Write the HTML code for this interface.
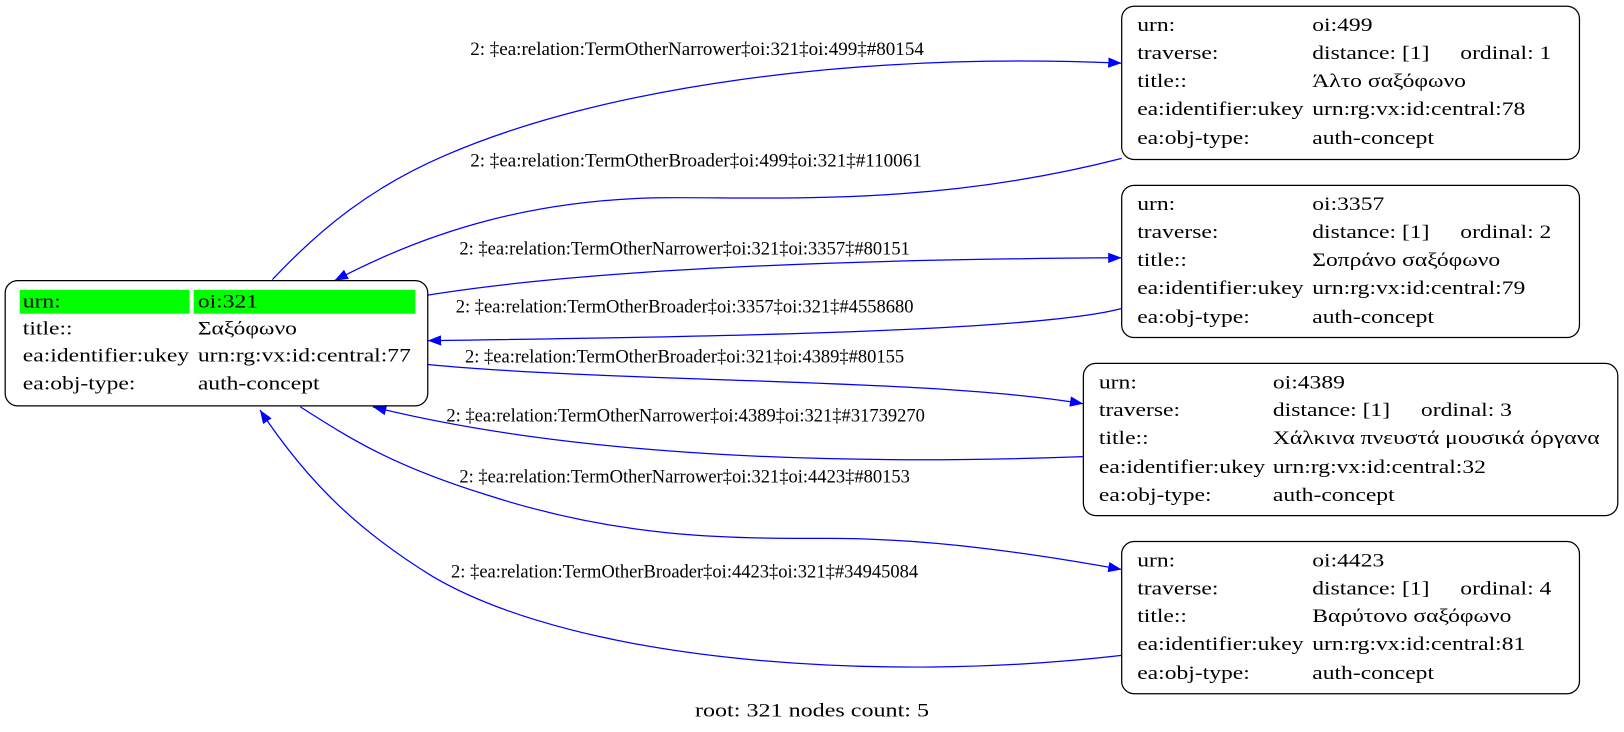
<!DOCTYPE html>
<html><head><meta charset="utf-8"><style>
html,body{margin:0;padding:0;background:#fff;}
svg{display:block;}
text{font-family:"Liberation Serif",serif;font-size:18px;fill:#000;}
</style></head><body>
<svg width="1624" height="732" viewBox="0 0 1568 707" preserveAspectRatio="none" xmlns="http://www.w3.org/2000/svg">
<defs>
<marker id="ah" markerUnits="userSpaceOnUse" markerWidth="14" markerHeight="10" refX="13" refY="5" orient="auto">
<path d="M0,0 L13,5 L0,10 Z" fill="#0000ff"/>
</marker>
</defs>
<g fill="none" stroke="#0000ff" stroke-width="1.2" marker-end="url(#ah)">
<path d="M263,270 C310,220 360,180 430,150 C580,85 820,50 1083,61"/>
<path d="M1083,153 C900,200 750,190 637,191 C520,193 420,220 323,271"/>
<path d="M413,285 C600,255 900,250 1083,249"/>
<path d="M1083,298 C1000,320 700,325 413,329"/>
<path d="M413,352 C600,370 900,365 1046,390"/>
<path d="M1046,441 C800,450 550,440 360,393"/>
<path d="M290,393 C340,425 380,450 470,478 C600,520 700,520 800,520 C900,520 1000,535 1083,550"/>
<path d="M1083,633 C850,660 560,640 418,557 C350,515 300,470 251,396"/>
</g>
<g text-anchor="middle">
<text x="673" y="53" textLength="438" lengthAdjust="spacingAndGlyphs">2: ‡ea:relation:TermOtherNarrower‡oi:321‡oi:499‡#80154</text>
<text x="672" y="161" textLength="436" lengthAdjust="spacingAndGlyphs">2: ‡ea:relation:TermOtherBroader‡oi:499‡oi:321‡#110061</text>
<text x="661" y="246" textLength="435" lengthAdjust="spacingAndGlyphs">2: ‡ea:relation:TermOtherNarrower‡oi:321‡oi:3357‡#80151</text>
<text x="661" y="302" textLength="442" lengthAdjust="spacingAndGlyphs">2: ‡ea:relation:TermOtherBroader‡oi:3357‡oi:321‡#4558680</text>
<text x="661" y="350" textLength="424" lengthAdjust="spacingAndGlyphs">2: ‡ea:relation:TermOtherBroader‡oi:321‡oi:4389‡#80155</text>
<text x="662" y="407" textLength="462" lengthAdjust="spacingAndGlyphs">2: ‡ea:relation:TermOtherNarrower‡oi:4389‡oi:321‡#31739270</text>
<text x="661" y="466" textLength="435" lengthAdjust="spacingAndGlyphs">2: ‡ea:relation:TermOtherNarrower‡oi:321‡oi:4423‡#80153</text>
<text x="661" y="558" textLength="451" lengthAdjust="spacingAndGlyphs">2: ‡ea:relation:TermOtherBroader‡oi:4423‡oi:321‡#34945084</text>
<text x="784" y="692" textLength="226" lengthAdjust="spacingAndGlyphs">root: 321 nodes count: 5</text>
</g>
<g fill="none" stroke="#000" stroke-width="1.2">
<rect x="5" y="271" width="408" height="121" rx="12"/>
<rect x="1083" y="6" width="442" height="148" rx="12"/>
<rect x="1083" y="179" width="442" height="147" rx="12"/>
<rect x="1046" y="351" width="516" height="147" rx="12"/>
<rect x="1083" y="523" width="442" height="147" rx="12"/>
</g>
<rect x="19" y="280" width="164" height="23" fill="#00ff00"/>
<rect x="187" y="280" width="214" height="23" fill="#00ff00"/>
<g transform="translate(22,0) scale(1.265,1)">
<text x="0" y="297">urn:</text><text x="133.6" y="297">oi:321</text>
<text x="0" y="323">title::</text><text x="133.6" y="323">Σαξόφωνο</text>
<text x="0" y="349">ea:identifier:ukey</text><text x="133.6" y="349">urn:rg:vx:id:central:77</text>
<text x="0" y="376">ea:obj-type:</text><text x="133.6" y="376">auth-concept</text>
</g>
<g transform="translate(1098,0) scale(1.265,1)">
<text x="0" y="30">urn:</text><text x="133.6" y="30">oi:499</text>
<text x="0" y="57">traverse:</text><text x="133.6" y="57">distance: [1]</text><text x="246.6" y="57">ordinal: 1</text>
<text x="0" y="84">title::</text><text x="133.6" y="84">Άλτο σαξόφωνο</text>
<text x="0" y="111">ea:identifier:ukey</text><text x="133.6" y="111">urn:rg:vx:id:central:78</text>
<text x="0" y="139">ea:obj-type:</text><text x="133.6" y="139">auth-concept</text>
</g>
<g transform="translate(1098,0) scale(1.265,1)">
<text x="0" y="203">urn:</text><text x="133.6" y="203">oi:3357</text>
<text x="0" y="230">traverse:</text><text x="133.6" y="230">distance: [1]</text><text x="246.6" y="230">ordinal: 2</text>
<text x="0" y="257">title::</text><text x="133.6" y="257">Σοπράνο σαξόφωνο</text>
<text x="0" y="284">ea:identifier:ukey</text><text x="133.6" y="284">urn:rg:vx:id:central:79</text>
<text x="0" y="312">ea:obj-type:</text><text x="133.6" y="312">auth-concept</text>
</g>
<g transform="translate(1061,0) scale(1.265,1)">
<text x="0" y="375">urn:</text><text x="132.8" y="375">oi:4389</text>
<text x="0" y="402">traverse:</text><text x="132.8" y="402">distance: [1]</text><text x="245.8" y="402">ordinal: 3</text>
<text x="0" y="429">title::</text><text x="132.8" y="429">Χάλκινα πνευστά μουσικά όργανα</text>
<text x="0" y="457">ea:identifier:ukey</text><text x="132.8" y="457">urn:rg:vx:id:central:32</text>
<text x="0" y="484">ea:obj-type:</text><text x="132.8" y="484">auth-concept</text>
</g>
<g transform="translate(1098,0) scale(1.265,1)">
<text x="0" y="547">urn:</text><text x="133.6" y="547">oi:4423</text>
<text x="0" y="574">traverse:</text><text x="133.6" y="574">distance: [1]</text><text x="246.6" y="574">ordinal: 4</text>
<text x="0" y="601">title::</text><text x="133.6" y="601">Βαρύτονο σαξόφωνο</text>
<text x="0" y="628">ea:identifier:ukey</text><text x="133.6" y="628">urn:rg:vx:id:central:81</text>
<text x="0" y="656">ea:obj-type:</text><text x="133.6" y="656">auth-concept</text>
</g>
</svg>
</body></html>
